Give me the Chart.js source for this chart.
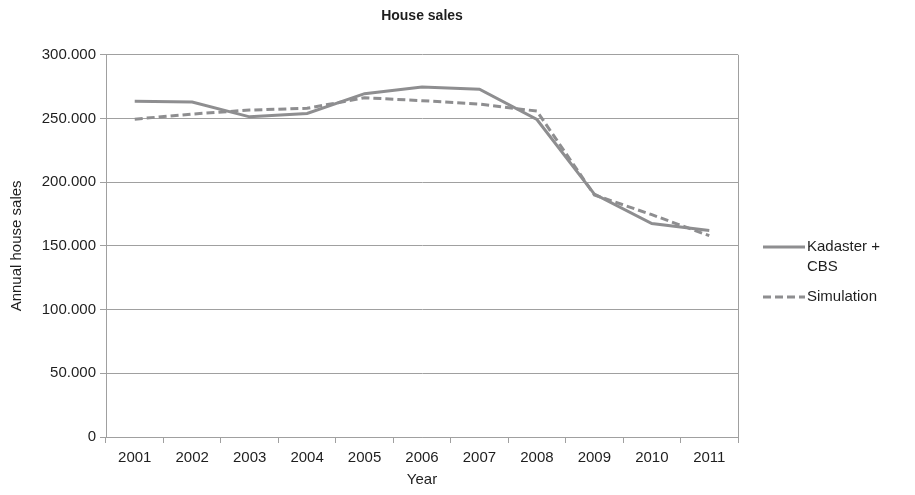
<!DOCTYPE html>
<html>
<head>
<meta charset="utf-8">
<script src="https://cdn.jsdelivr.net/npm/chart.js@4"></script>
<style>
  html, body { margin: 0; padding: 0; background: #fff; }
  #wrap { width: 915px; height: 495px; }
</style>
</head>
<body>
<div id="wrap"><canvas id="chart" width="915" height="495"></canvas></div>
<script>
// data
const years = ['2001', '2002', '2003', '2004', '2005', '2006', '2007', '2008', '2009', '2010', '2011'];
const kadasterCbs = [263500, 263000, 251300, 254000, 269500, 274800, 273000, 249200, 190700, 167500, 162000];
const simulation = [249500, 253500, 256600, 258000, 266300, 264000, 261300, 255800, 190000, 174500, 158000];
const legendLabels = [['Kadaster +', 'CBS'], ['Simulation']];

const lineGray = '#8e8e90';
const gridGray = '#a0a0a0';
const textColor = '#1e1e1e';
const font = { family: '"Liberation Sans", Arial, sans-serif', size: 15 };

// right edge of the plot frame + legend, drawn on the canvas
const framePlugin = {
  id: 'frame',
  afterDraw(chart) {
    const { ctx, chartArea: a } = chart;
    ctx.save();
    ctx.strokeStyle = gridGray;
    ctx.lineWidth = 1;
    ctx.beginPath();
    ctx.moveTo(Math.round(a.right) + 0.5, a.top);
    ctx.lineTo(Math.round(a.right) + 0.5, a.bottom);
    ctx.stroke();

    // legend
    const x0 = a.right + 25;
    const rows = [
      { y: 247, dash: [], text: legendLabels[0] },
      { y: 297, dash: [8, 4], text: legendLabels[1] }
    ];
    ctx.font = font.size + 'px ' + font.family;
    ctx.fillStyle = textColor;
    ctx.textBaseline = 'middle';
    rows.forEach(r => {
      ctx.strokeStyle = lineGray;
      ctx.lineWidth = 3;
      ctx.setLineDash(r.dash);
      ctx.beginPath();
      ctx.moveTo(x0, r.y);
      ctx.lineTo(x0 + 42, r.y);
      ctx.stroke();
      r.text.forEach((t, i) => ctx.fillText(t, x0 + 44, r.y + i * 20));
    });
    ctx.restore();
  }
};

new Chart(document.getElementById('chart'), {
  type: 'line',
  data: {
    labels: years,
    datasets: [
      {
        label: 'Kadaster + CBS',
        data: kadasterCbs,
        borderColor: lineGray,
        borderWidth: 3,
        pointRadius: 0,
        tension: 0
      },
      {
        label: 'Simulation',
        data: simulation,
        borderColor: lineGray,
        borderWidth: 3,
        borderDash: [8, 4],
        pointRadius: 0,
        tension: 0
      }
    ]
  },
  options: {
    responsive: false,
    animation: false,
    layout: { padding: { top: 0, right: 177, bottom: 0, left: 0 } },
    plugins: {
      legend: { display: false },
      tooltip: { enabled: false },
      title: {
        display: true,
        text: 'House sales',
        fullSize: false,
        color: textColor,
        font: { family: font.family, size: 14, weight: 'bold' },
        padding: { top: 8, bottom: 30 }
      }
    },
    scales: {
      x: {
        offset: true,
        grid: {
          offset: true,
          drawOnChartArea: false,
          color: gridGray,
          tickLength: 6
        },
        border: { color: gridGray },
        ticks: { color: textColor, font: font, maxRotation: 0, padding: 6 },
        title: { display: true, text: 'Year', color: textColor, font: font, padding: { top: 2, bottom: 6 } },
        afterFit(scale) { scale.height = 58; }
      },
      y: {
        min: 0,
        max: 300000,
        grid: { color: gridGray, tickLength: 6 },
        border: { color: gridGray },
        ticks: {
          stepSize: 50000,
          color: textColor,
          font: font,
          padding: 4,
          callback: v => v.toLocaleString('en-US').replace(/,/g, '.')
        },
        title: { display: true, text: 'Annual house sales', color: textColor, font: font, padding: { top: 8, bottom: 8 } },
        afterFit(scale) { scale.width = 106; }
      }
    }
  },
  plugins: [framePlugin]
});
</script>
</body>
</html>
